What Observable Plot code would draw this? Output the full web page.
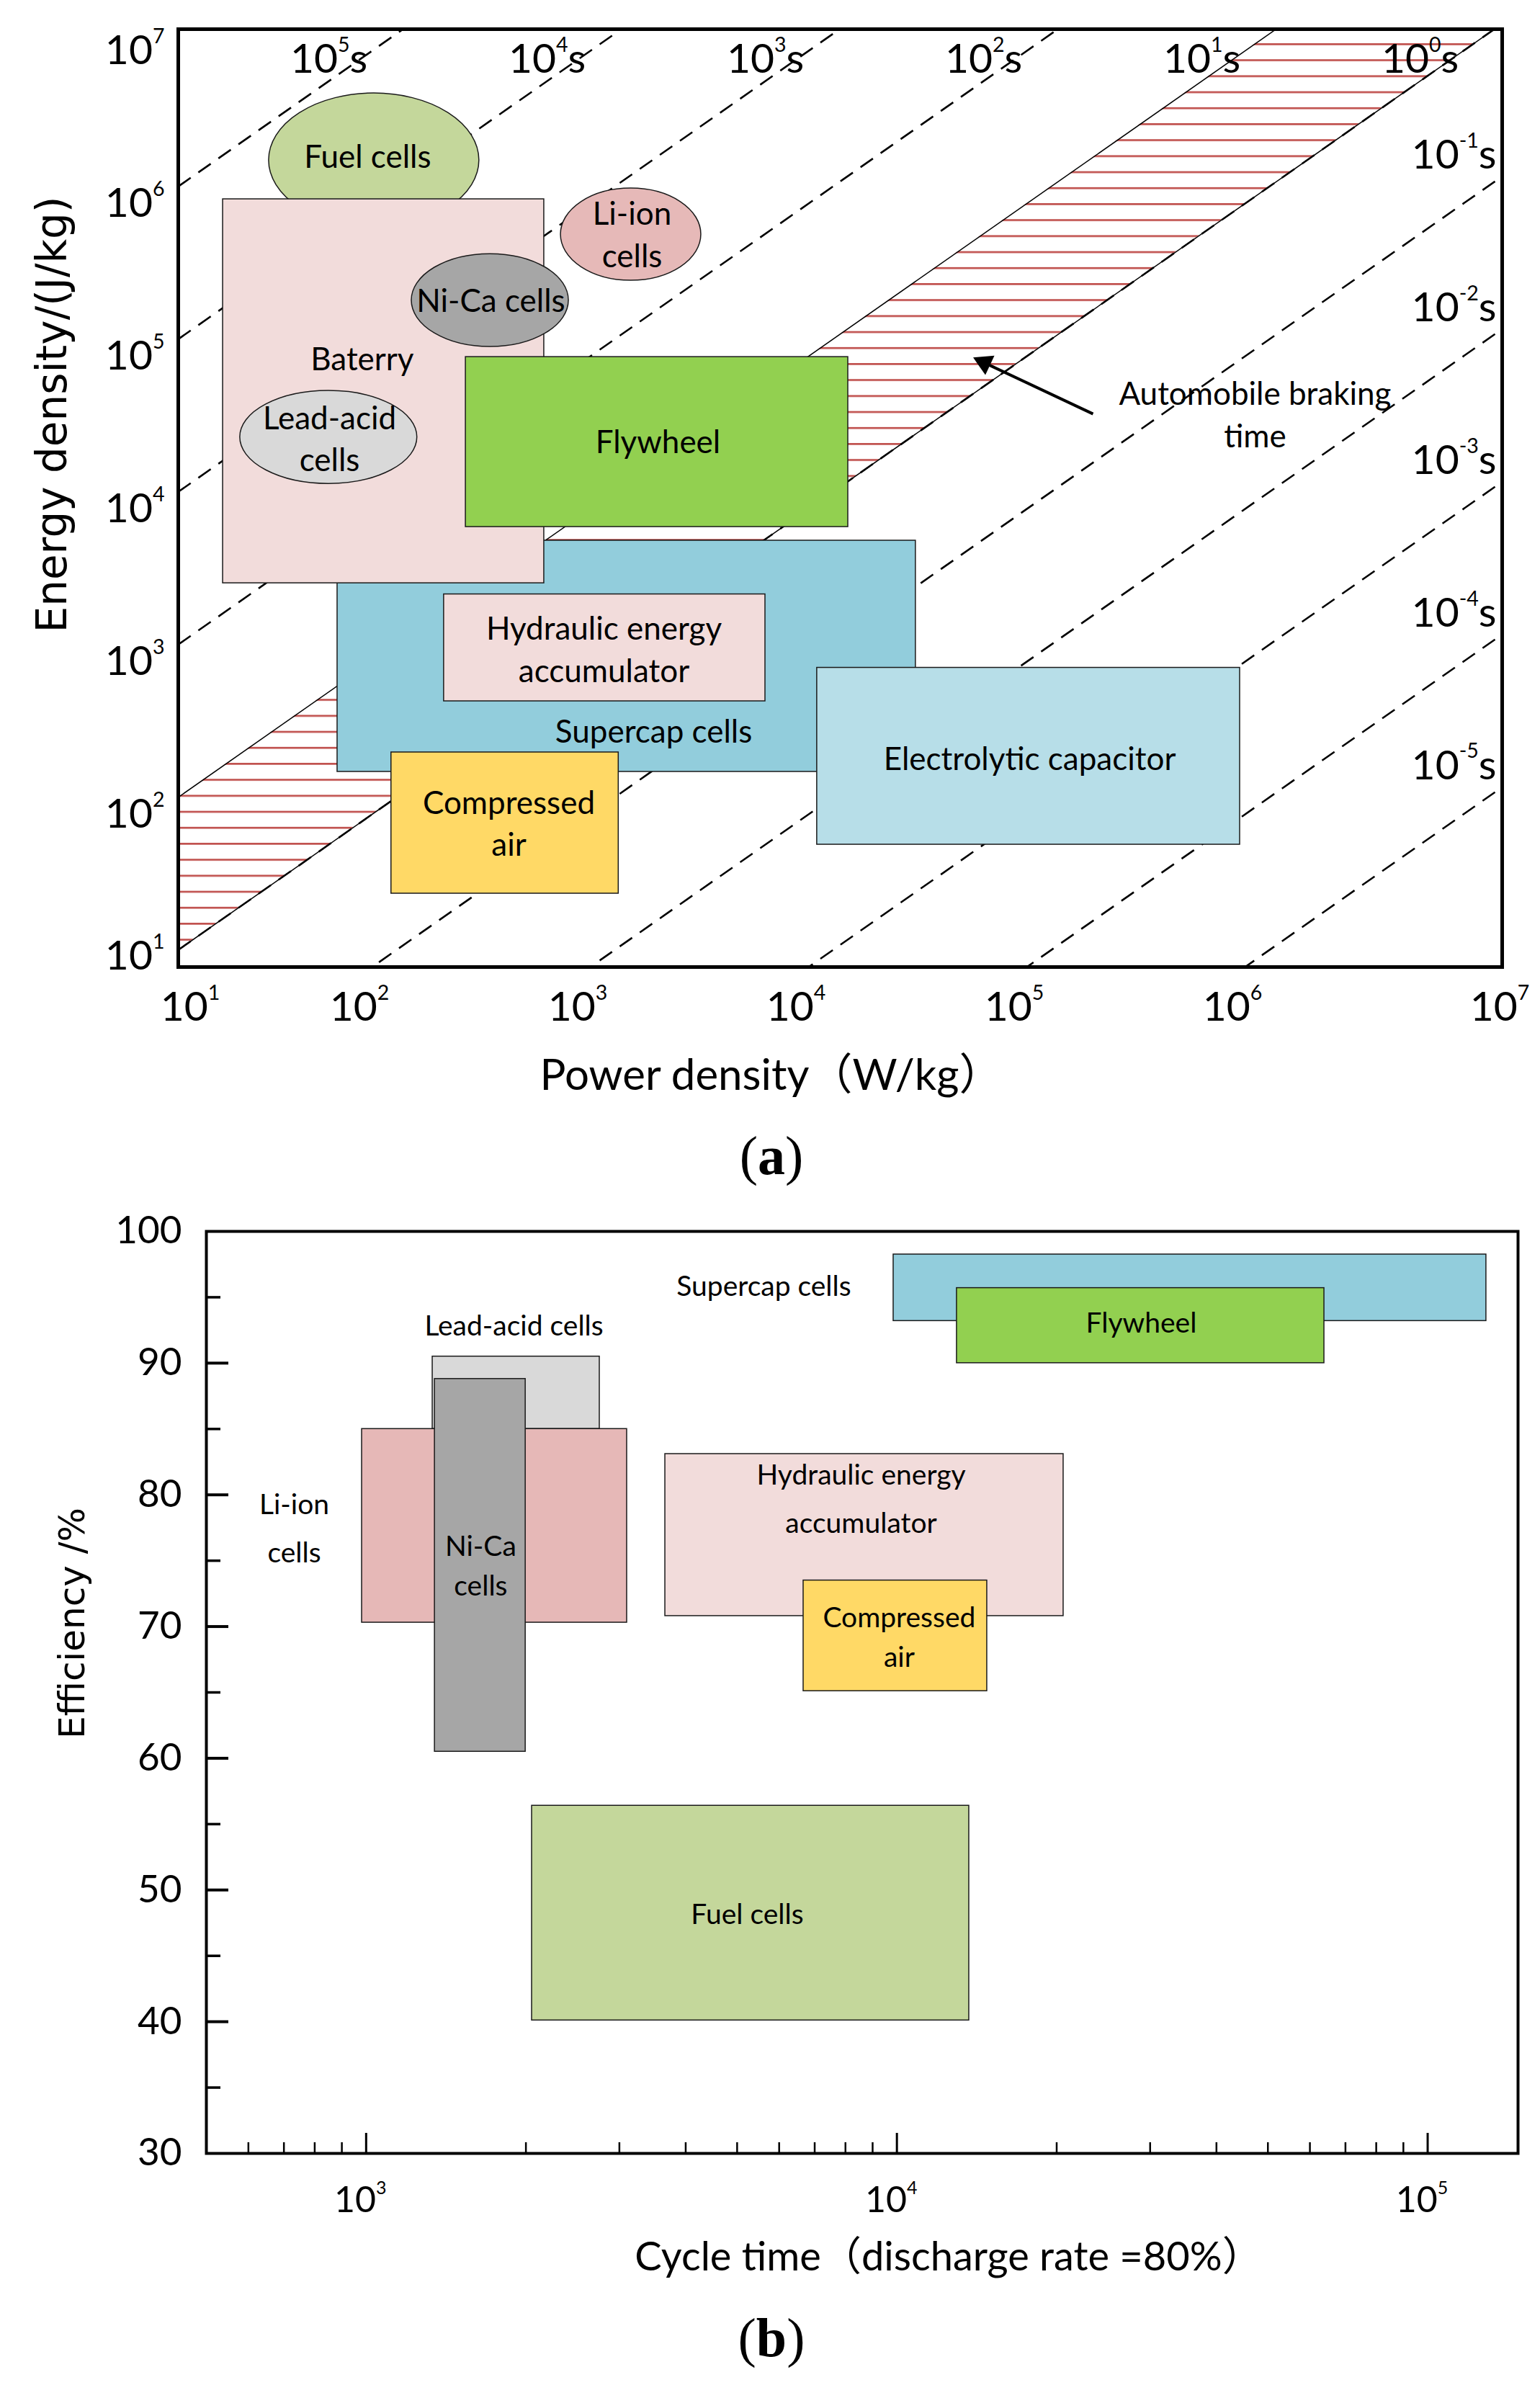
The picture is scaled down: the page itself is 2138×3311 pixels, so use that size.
<!DOCTYPE html>
<html><head><meta charset="utf-8">
<script src="https://cdn.jsdelivr.net/npm/d3@7"></script>
<script src="https://cdn.jsdelivr.net/npm/@observablehq/plot@0.6"></script>
<style>
html,body{margin:0;padding:0;background:#fff;}
#root{position:relative;width:2138px;height:3311px;background:#fff;overflow:hidden;}
#root svg{position:absolute;left:0;}
.cap{position:absolute;left:0;width:2142px;text-align:center;font-family:"Liberation Serif","DejaVu Serif",serif;font-size:76px;line-height:76px;height:76px;color:#000;}
</style></head><body><div id="root"></div>
<script>
// ================= (a) Energy density vs power density =================
const aNames  = ["Supercap cells","Hydraulic energy accumulator","Compressed air","Electrolytic capacitor","Fuel cells","Baterry","Flywheel","Lead-acid cells","Ni-Ca cells","Li-ion cells"];
const aKinds  = ["rect","rect","rect","rect","ellipse","rect","rect","ellipse","ellipse","ellipse"];
const aP1     = [79.3, 244, 140, 12500, 38.5, 23.7, 307, 28.4, 173.5, 837];        // W/kg
const aP2     = [35400, 7240, 1540, 1083000, 354, 702, 17350, 184, 910, 3680];
const aE1     = [217, 629, 34.6, 72.4, 799000, 3730, 8710, 16700, 131600, 357600]; // J/kg
const aE2     = [7090, 3155, 291, 1042, 6020000, 1220000, 113000, 67900, 534000, 1436000];
const aColors = ["#92cddc","#f2dcdb","#ffd966","#b7dee8","#c4d79b","#f2dcdb","#92d050","#d9d9d9","#a6a6a6","#e6b9b8"];

const aLabelText = ["Fuel cells","Li-ion\ncells","Ni-Ca cells","Baterry","Lead-acid\ncells","Flywheel","Hydraulic energy\naccumulator","Supercap cells","Compressed\nair","Electrolytic capacitor","Automobile braking\ntime"];
const aLabelP    = [109, 1775, 400, 103, 73, 2333, 1320, 2230, 484, 117800, 1270000];
const aLabelE    = [2400000, 740000, 272000, 114000, 34000, 32500, 1420, 412, 103, 272, 49000];

const dischargeTimes = [1e5, 1e4, 1e3, 1e2, 1e1, 1e0, 1e-1, 1e-2, 1e-3, 1e-4, 1e-5]; // s
const brakingBand = [1, 10]; // s
const arrowTail = [229800, 47930];
const arrowHead = [72970, 103630];
const aDecades = [1e1, 1e2, 1e3, 1e4, 1e5, 1e6, 1e7];

// ================= (b) Efficiency vs cycle time =================
const bNames  = ["Supercap cells","Flywheel","Lead-acid cells","Li-ion cells","Ni-Ca cells","Hydraulic energy accumulator","Compressed air","Fuel cells"];
const bC1     = [9854, 12970, 1334, 982, 1347, 3660, 6668, 2053];
const bC2     = [128950, 63860, 2754, 3101, 1997, 20600, 14790, 13680];
const bEff1   = [93.2, 90.0, 85.0, 70.3, 60.5, 70.8, 65.1, 40.1];
const bEff2   = [98.25, 95.7, 90.5, 85.0, 88.8, 83.1, 73.5, 56.4];
const bColors = ["#92cddc","#92d050","#d9d9d9","#e6b8b7","#a6a6a6","#f2dcdb","#ffd966","#c4d79b"];

const bLabelText = ["Supercap cells","Lead-acid cells","Flywheel","Fuel cells"];
const bLabelC    = [5615, 1899, 28870, 5225];
const bLabelEff  = [95.8, 92.8, 93.0, 48.1];
const bLabel2Text = ["Li-ion\ncells","Hydraulic energy\naccumulator"];
const bLabel2C    = [732, 8563];
const bLabel2Eff  = [77.9, 80.1];
const bLabel3Text = ["Ni-Ca\ncells","Compressed\nair"];
const bLabel3C    = [1644, 10100];
const bLabel3Eff  = [74.8, 69.4];

const bYTicks = [30, 40, 50, 60, 70, 80, 90, 100];
const bYMinor = [35, 45, 55, 65, 75, 85, 95];
const bXTicks = [1e3, 1e4, 1e5];
const bXMinor = [600, 700, 800, 900, 2000, 3000, 4000, 5000, 6000, 7000, 8000, 9000, 20000, 30000, 40000, 50000, 60000, 70000, 80000, 90000];

// ================= build =================
const FONT = "Lato, 'Noto Sans CJK SC', sans-serif";
const WIDE = "'DejaVu Sans', Verdana, sans-serif";
const sup = d => "10^" + Math.round(Math.log10(d));
const timeLabel = t => "10^" + Math.round(Math.log10(t)) + "s";

const shapesA = aNames.map((name, i) => ({name, kind: aKinds[i], p1: aP1[i], p2: aP2[i], e1: aE1[i], e2: aE2[i], color: aColors[i]}));
const labelsA = aLabelText.map((t, i) => ({t, p: aLabelP[i], e: aLabelE[i]}));
const xDomA = [10 ** 1.170, 10 ** 7.236];
const yDomA = [10 ** 1.058, 10 ** 7.200];
const topTimes = dischargeTimes.filter(t => t >= 1);
const rightTimes = dischargeTimes.filter(t => t < 1);
const dashedTimes = dischargeTimes.filter(t => t !== 10);

const plotA = Plot.plot({
  width: 2138, height: 1560,
  marginLeft: 247, marginRight: 53, marginTop: 40, marginBottom: 218,
  style: {fontFamily: FONT, background: "transparent", color: "#000"},
  x: {type: "log", domain: xDomA, axis: null},
  y: {type: "log", domain: yDomA, axis: null},
  marks: [
    Plot.areaY(xDomA, {x: d => d, y1: d => d * brakingBand[0], y2: d => d * brakingBand[1], fill: "url(#hatchA)", clip: true}),
    Plot.link(brakingBand, {x1: () => xDomA[0], y1: t => xDomA[0] * t, x2: () => xDomA[1], y2: t => xDomA[1] * t, stroke: "#000", strokeWidth: 1.5, clip: true}),
    Plot.link(dashedTimes, {x1: () => xDomA[0], y1: t => xDomA[0] * t, x2: () => xDomA[1], y2: t => xDomA[1] * t, stroke: "#000", strokeWidth: 2.6, strokeDasharray: "21,13", clip: true}),
    ...shapesA.map(d => Plot.rect([d], {x1: "p1", x2: "p2", y1: "e1", y2: "e2", fill: d.color, stroke: "#1a1a1a", strokeWidth: 1.5, rx: d.kind === "ellipse" ? 5000 : 0, ry: d.kind === "ellipse" ? 5000 : 0})),
    Plot.text(labelsA, {x: "p", y: "e", text: "t", fontSize: 44, lineHeight: 1.33, fill: "#000"}),
    Plot.link([0], {x1: () => arrowTail[0], y1: () => arrowTail[1], x2: () => arrowHead[0], y2: () => arrowHead[1], stroke: "#000", strokeWidth: 4}),
    Plot.dot([0], {x: () => arrowHead[0], y: () => arrowHead[1], symbol: "triangle", r: 11, fill: "#000", stroke: "none", rotate: -65}),
    Plot.text(topTimes, {x: t => 10 ** 6.86 / t, y: () => 1e7, text: timeLabel, fontSize: 57}),
    Plot.text(rightTimes, {x: () => 10 ** 7.015, y: t => t * 10 ** 7.375, text: timeLabel, fontSize: 57}),
    Plot.axisX(aDecades.slice(1, 6), {tickSize: 0, tickPadding: 34, tickFormat: sup, fontSize: 57, label: null}),
    Plot.axisX([aDecades[0], aDecades[6]], {tickSize: 0, tickPadding: 34, tickFormat: sup, fontSize: 57, label: null, dx: 68}),
    Plot.axisY(aDecades.slice(1), {tickSize: 0, tickPadding: 19, tickFormat: sup, fontSize: 57, label: null, dy: -12}),
    Plot.axisY([aDecades[0]], {tickSize: 0, tickPadding: 19, tickFormat: sup, fontSize: 57, label: null, dy: -27}),
    Plot.text(["Power density（W/kg）"], {frameAnchor: "bottom", dx: -96, dy: 170, fontSize: 60}),
    Plot.text(["Energy density/(J/kg)"], {frameAnchor: "left", textAnchor: "middle", dx: -174, dy: -116, rotate: -90, fontSize: 58, fontFamily: WIDE}),
    Plot.frame({stroke: "#000", strokeWidth: 5})
  ]
});

const shapesB = bNames.map((name, i) => ({name, c1: bC1[i], c2: bC2[i], y1: bEff1[i], y2: bEff2[i], color: bColors[i]}));
const lb1 = bLabelText.map((t, i) => ({t, c: bLabelC[i], e: bLabelEff[i]}));
const lb2 = bLabel2Text.map((t, i) => ({t, c: bLabel2C[i], e: bLabel2Eff[i]}));
const lb3 = bLabel3Text.map((t, i) => ({t, c: bLabel3C[i], e: bLabel3Eff[i]}));
const WB = 2138, HB = 1530, mLB = 286, mRB = 31, mTB = 59, mBB = 191;
const plotWB = WB - mLB - mRB, plotHB = HB - mTB - mBB;

const plotB = Plot.plot({
  width: WB, height: HB,
  marginLeft: mLB, marginRight: mRB, marginTop: mTB, marginBottom: mBB,
  style: {fontFamily: FONT, background: "transparent", color: "#000"},
  x: {type: "log", domain: [500, 148000], axis: null},
  y: {domain: [30, 100], axis: null},
  marks: [
    ...shapesB.map(d => Plot.rect([d], {x1: "c1", x2: "c2", y1: "y1", y2: "y2", fill: d.color, stroke: "#1a1a1a", strokeWidth: 1.5})),
    Plot.text(lb1, {x: "c", y: "e", text: "t", fontSize: 39}),
    Plot.text(lb2, {x: "c", y: "e", text: "t", fontSize: 39, lineHeight: 1.72}),
    Plot.text(lb3, {x: "c", y: "e", text: "t", fontSize: 39, lineHeight: 1.4}),
    Plot.ruleY(bYMinor, {insetRight: plotWB - 20, strokeWidth: 3.5}),
    Plot.ruleY(bYTicks.slice(1, -1), {insetRight: plotWB - 31, strokeWidth: 4}),
    Plot.ruleX(bXMinor, {insetTop: plotHB - 15, strokeWidth: 2.5}),
    Plot.ruleX(bXTicks, {insetTop: plotHB - 28, strokeWidth: 3}),
    Plot.axisY(bYTicks, {tickSize: 0, tickPadding: 34, fontSize: 53, label: null}),
    Plot.axisX(bXTicks, {tickSize: 0, tickPadding: 46, tickFormat: sup, fontSize: 50, label: null, dx: -8}),
    Plot.text(["Cycle time（discharge rate =80%）"], {frameAnchor: "bottom", dx: 120, dy: 162, fontSize: 56}),
    Plot.text(["Efficiency /%"], {frameAnchor: "left", textAnchor: "middle", dx: -186, dy: -96, rotate: -90, fontSize: 50, fontFamily: WIDE}),
    Plot.frame({stroke: "#000", strokeWidth: 4})
  ]
});

// superscript formatting for "10^n" strings
const NS = "http://www.w3.org/2000/svg";
function supify(svg) {
  svg.querySelectorAll("text").forEach(el => {
    if (el.children.length) return;
    const m = el.textContent.match(/^(.*?)\^(-?\d+)(.*)$/);
    if (!m) return;
    el.textContent = "";
    const t1 = document.createElementNS(NS, "tspan"); t1.textContent = m[1];
    const t2 = document.createElementNS(NS, "tspan"); t2.textContent = m[2];
    t2.setAttribute("font-size", "0.5em"); t2.setAttribute("dy", "-1.02em");
    el.append(t1, t2);
    if (m[3]) {
      const t3 = document.createElementNS(NS, "tspan"); t3.textContent = m[3];
      t3.setAttribute("dy", "0.51em");
      el.append(t3);
    }
  });
}
supify(plotA); supify(plotB);

const defs = document.createElementNS(NS, "defs");
defs.innerHTML = '<pattern id="hatchA" patternUnits="userSpaceOnUse" x="0" y="6" width="40" height="22.2"><line x1="0" y1="11" x2="40" y2="11" stroke="#c0504d" stroke-width="2.8"/></pattern>';
plotA.insertBefore(defs, plotA.firstChild);

const root = document.getElementById("root");
plotA.style.top = "0px";
plotB.style.top = "1650px";
root.appendChild(plotA);
root.appendChild(plotB);
const capA = document.createElement("div"); capA.className = "cap"; capA.style.top = "1566px"; capA.innerHTML = "(<b>a</b>)";
const capB = document.createElement("div"); capB.className = "cap"; capB.style.top = "3207px"; capB.innerHTML = "(<b>b</b>)";
root.appendChild(capA); root.appendChild(capB);
</script>
</body></html>
